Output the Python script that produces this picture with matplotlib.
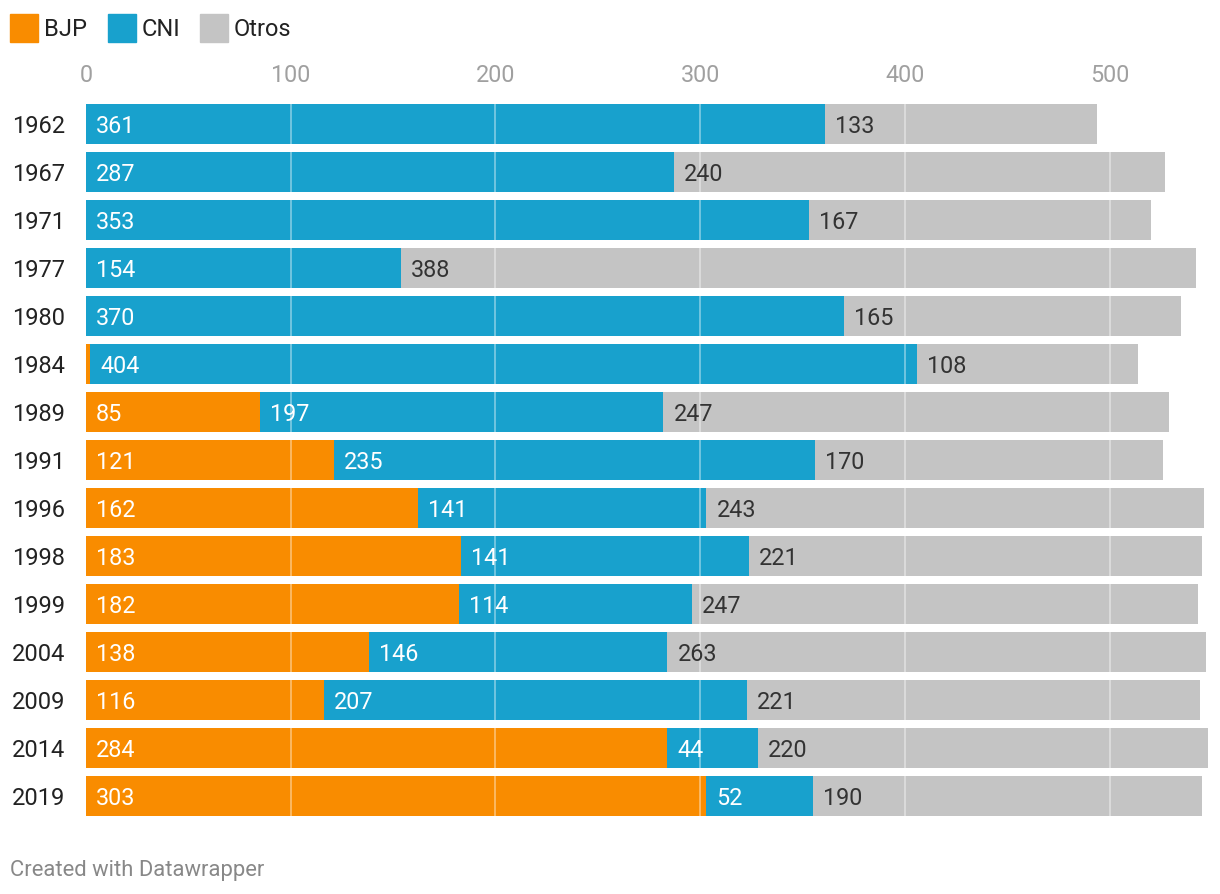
import matplotlib.pyplot as plt

plt.rcParams['font.family'] = ['Roboto', 'DejaVu Sans']

years = ["1962", "1967", "1971", "1977", "1980", "1984", "1989", "1991",
         "1996", "1998", "1999", "2004", "2009", "2014", "2019"]
bjp = [0, 0, 0, 0, 0, 2, 85, 121, 162, 183, 182, 138, 116, 284, 303]
cni = [361, 287, 353, 154, 370, 404, 197, 235, 141, 141, 114, 146, 207, 44, 52]
otros = [133, 240, 167, 388, 165, 108, 247, 170, 243, 221, 247, 263, 221, 220, 190]

series = [("BJP", bjp, "#f98c00", "white"),
          ("CNI", cni, "#18a1cd", "white"),
          ("Otros", otros, "#c4c4c4", "#333333")]

W, H = 1220, 894
fig = plt.figure(figsize=(W / 100, H / 100), dpi=100)
ax = fig.add_axes([86 / W, (H - 820) / H, (1208 - 86) / W, 720 / H])

ypos = list(range(len(years)))
left = [0] * len(years)
px_per_unit = (1208 - 86) / 548
for name, vals, color, tcolor in series:
    ax.barh(ypos, vals, left=left, height=0.833, color=color, zorder=2)
    for i, v in enumerate(vals):
        if v >= 10:
            ax.text(left[i] + 10 / px_per_unit, i, str(v), ha="left",
                    va="center_baseline", fontsize=16.8, color=tcolor, zorder=4)
    left = [a + b for a, b in zip(left, vals)]

for x in [100, 200, 300, 400, 500]:
    ax.axvline(x, color="white", alpha=0.45, lw=1.2, zorder=3)

ax.set_xlim(0, 548)
ax.set_ylim(len(years) - 0.5, -0.5)
ax.set_xticks([0, 100, 200, 300, 400, 500])
ax.xaxis.tick_top()
ax.tick_params(axis="x", length=0, labelsize=16.8, labelcolor="#a0a0a0", pad=9)
ax.set_yticks(ypos)
ax.set_yticklabels(years)
ax.tick_params(axis="y", length=0, labelsize=17, labelcolor="#222222", pad=0)
for lbl in ax.get_yticklabels():
    lbl.set_horizontalalignment("left")
    lbl.set_verticalalignment("center_baseline")
    lbl.set_x(-74 / (1208 - 86))
for s in ax.spines.values():
    s.set_visible(False)

# leyenda
legend_items = [("BJP", "#f98c00", 10), ("CNI", "#18a1cd", 108), ("Otros", "#c4c4c4", 200)]
for name, color, x0 in legend_items:
    fig.patches.append(plt.Rectangle((x0 / W, (H - 42) / H), 28 / W, 28 / H,
                                     color=color, transform=fig.transFigure))
    fig.text((x0 + 34) / W, (H - 26.5) / H, name, fontsize=17, color="#222222",
             ha="left", va="center_baseline")

fig.text(10 / W, (H - 868) / H, "Created with Datawrapper", fontsize=15.8,
         color="#888888", ha="left", va="center_baseline")

plt.savefig("out.png", dpi=100)
